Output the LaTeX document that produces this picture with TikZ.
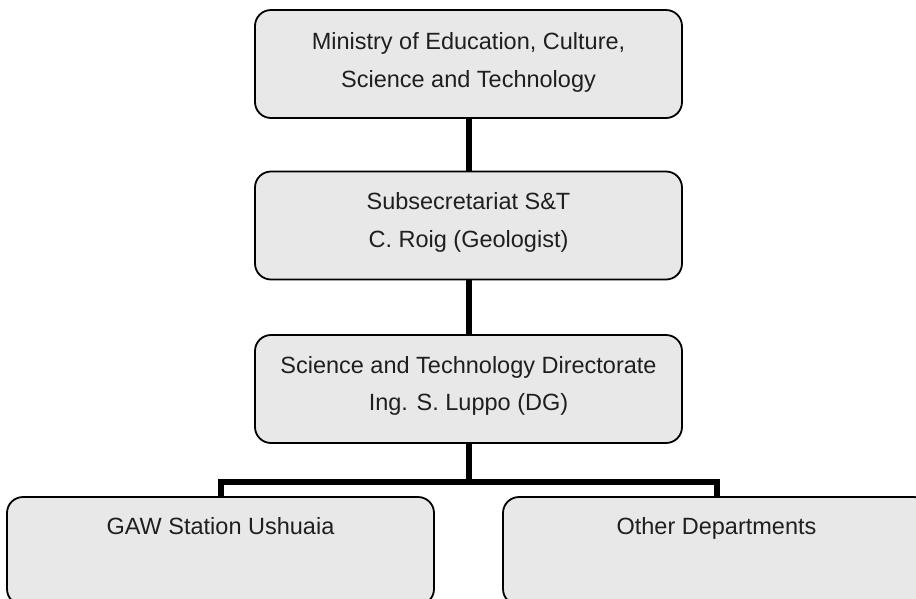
\documentclass[tikz,border=0pt]{standalone}
\usepackage{fontspec}
\setmainfont{Liberation Sans}
\usetikzlibrary{backgrounds}
\definecolor{boxgray}{RGB}{232,232,232}
\begin{document}
\begin{tikzpicture}[x=1pt,y=-1pt,
  box/.style={draw=black, line width=1.8pt, fill=boxgray, rounded corners=16pt,
    minimum width=427pt, minimum height=108pt, inner sep=0pt},
  txt/.style={font=\fontsize{23.5}{37.5}\selectfont, align=center, inner sep=0pt, anchor=north, text=black!88},
  conn/.style={line width=6pt, draw=black}]
\useasboundingbox (0,0) rectangle (916,598);
\clip (0,0) rectangle (916,598);
\node[box] (b1) at (468.5,64) {};
\node[box] (b2) at (468.5,225.5) {};
\node[box] (b3) at (468.5,389) {};
\node[box] (b4) at (220.5,551) {};
\node[box] (b5) at (716.5,551) {};
\node[txt] (t1) at ([yshift=-23.5pt]b1.north) {Ministry of Education, Culture,\\Science and Technology};
\node[txt] (t2) at ([yshift=-22pt]b2.north) {Subsecretariat S\&T\\C. Roig (Geologist)};
\node[txt] (t3) at ([yshift=-22pt]b3.north) {Science and Technology Directorate\\Ing. S. Luppo (DG)};
\node[txt] (t4) at ([yshift=-21pt]b4.north) {GAW Station Ushuaia};
\node[txt] (t5) at ([yshift=-21pt]b5.north) {Other Departments};
\coordinate (bus) at (468.5,482);
\begin{scope}[on background layer]
\draw[conn] (b1.south) -- (b2.north);
\draw[conn] (b2.south) -- (b3.north);
\draw[conn] (b3.south) -- (bus);
\draw[conn] (b4.north) |- (bus) -| (b5.north);
\end{scope}
\end{tikzpicture}
\end{document}
